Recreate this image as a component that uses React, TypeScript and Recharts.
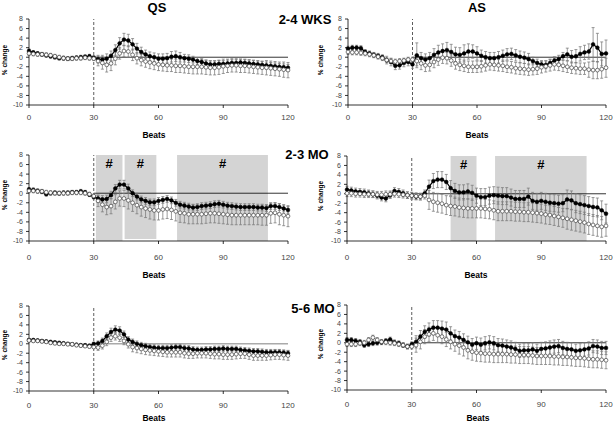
import React from 'react';
import { ComposedChart, Line, XAxis, YAxis, ReferenceLine, ReferenceArea, ErrorBar } from 'recharts';

const beats = [
  0, 2, 4, 6, 8, 10, 12, 14, 16, 18,
  20, 22, 24, 26, 28, 30, 32, 34, 36, 38,
  40, 42, 44, 46, 48, 50, 52, 54, 56, 58,
  60, 62, 64, 66, 68, 70, 72, 74, 76, 78,
  80, 82, 84, 86, 88, 90, 92, 94, 96, 98,
  100, 102, 104, 106, 108, 110, 112, 114, 116, 118,
  120,
];
const xTicks = [0, 30, 60, 90, 120];
const yTicks = [-10, -8, -6, -4, -2, 0, 2, 4, 6, 8];

// QS 2-4 WKS
const qs24Filled = [
  1.3, 1.0, 0.8, 0.6, 0.4, 0.2, 0.0, -0.2, -0.2, -0.3,
  -0.2, -0.1, 0.0, 0.1, 0.2, -0.1, -0.4, -0.5, -0.3, 0.3,
  1.5, 2.9, 3.7, 3.5, 2.7, 1.8, 1.1, 0.6, 0.2, 0.0,
  -0.3, -0.3, -0.2, 0.1, 0.2, 0.0, -0.2, -0.3, -0.5, -0.8,
  -1.0, -1.3, -1.5, -1.5, -1.4, -1.4, -1.3, -1.2, -1.2, -1.1,
  -1.2, -1.3, -1.4, -1.5, -1.6, -1.7, -1.8, -1.9, -2.0, -2.1,
  -2.2,
];
const qs24Open = [
  0.8, 0.7, 0.6, 0.6, 0.5, 0.4, 0.2, 0.0, -0.2, -0.3,
  -0.3, -0.2, -0.2, -0.1, -0.2, -0.3, -0.8, -1.2, -1.6, -1.3,
  -0.3, 0.8, 1.3, 1.2, 0.5, -0.2, -0.6, -0.9, -1.1, -1.3,
  -1.5, -1.6, -1.7, -1.7, -1.8, -1.8, -1.9, -2.0, -2.0, -2.0,
  -2.0, -2.1, -2.2, -2.2, -2.1, -1.9, -1.8, -1.7, -1.7, -1.8,
  -1.8, -1.9, -2.0, -2.1, -2.2, -2.2, -2.3, -2.4, -2.5, -2.6,
  -2.7,
];
const qs24FilledErr = [
  0.4, 0.4, 0.4, 0.4, 0.4, 0.4, 0.4, 0.4, 0.4, 0.4,
  0.4, 0.4, 0.4, 0.4, 0.4, 0.4, 0.8, 0.9, 1.0, 1.0,
  1.1, 1.2, 1.3, 1.3, 1.2, 1.1, 1.0, 0.9, 0.9, 0.9,
  1.0, 1.0, 1.0, 1.1, 1.1, 1.0, 0.8, 0.8, 0.7, 0.7,
  0.7, 0.7, 0.7, 0.7, 0.7, 0.7, 0.7, 0.7, 0.7, 0.7,
  0.7, 0.7, 0.7, 0.7, 0.7, 0.7, 0.7, 0.7, 0.7, 0.7,
  0.7,
];
const qs24OpenErr = [
  0.4, 0.4, 0.4, 0.4, 0.4, 0.4, 0.4, 0.4, 0.4, 0.4,
  0.4, 0.4, 0.4, 0.4, 0.4, 0.4, 1.0, 1.3, 1.5, 1.5,
  1.3, 1.2, 1.2, 1.2, 1.2, 1.2, 1.2, 1.2, 1.3, 1.3,
  1.3, 1.3, 1.3, 1.3, 1.4, 1.4, 1.4, 1.4, 1.5, 1.5,
  1.5, 1.5, 1.5, 1.5, 1.5, 1.5, 1.4, 1.4, 1.4, 1.4,
  1.4, 1.4, 1.4, 1.4, 1.4, 1.5, 1.5, 1.5, 1.5, 1.6,
  1.6,
];

// AS 2-4 WKS
const as24Filled = [
  1.8, 2.0, 2.0, 1.9, 1.1, 0.8, 0.5, 0.3, 0.0, -0.6,
  -1.0, -1.8, -1.7, -1.2, -1.0, -1.5, 0.4, -0.2, -0.5, -0.2,
  0.5, 1.0, 1.3, 1.5, 1.1, 0.6, 0.5, 0.8, 1.2, 1.2,
  0.8, 0.3, 0.0, -0.2, -0.2, 0.0, 0.3, 0.6, 0.7, 0.4,
  0.1, -0.1, -0.4, -0.8, -1.2, -1.5, -1.6, -1.2, -0.7, -0.4,
  0.2, 0.6, 0.1, 0.2, 0.7, 1.0, 1.2, 2.7, 2.0, 0.7,
  0.8,
];
const as24Open = [
  1.1, 1.0, 1.0, 0.9, 0.8, 0.6, 0.4, 0.1, -0.2, -0.6,
  -0.8, -0.9, -0.8, -0.7, -0.5, -0.5, -0.8, -1.3, -1.7, -1.6,
  -1.0, -0.5, -0.1, -0.2, -0.7, -1.3, -1.6, -1.8, -2.0, -2.0,
  -2.0, -1.9, -1.7, -1.5, -1.6, -1.7, -1.8, -2.0, -2.1, -2.3,
  -2.4, -2.5, -2.6, -2.5, -2.4, -2.1, -1.9, -1.7, -1.5, -1.6,
  -1.8, -2.0, -2.2, -2.3, -2.4, -2.4, -2.6, -2.7, -2.7, -2.5,
  -2.2,
];
const as24FilledErr = [
  0.5, 0.5, 0.5, 0.5, 0.5, 0.5, 0.5, 0.5, 0.5, 0.8,
  0.8, 0.8, 0.8, 0.8, 0.8, 0.8, 2.6, 1.2, 1.2, 1.2,
  1.3, 1.5, 1.5, 1.6, 1.6, 1.5, 1.5, 1.8, 1.6, 1.4,
  1.4, 1.2, 1.2, 1.2, 1.2, 1.2, 1.2, 1.2, 1.2, 1.2,
  1.2, 1.2, 1.2, 0.8, 0.8, 0.8, 0.8, 0.8, 0.8, 0.8,
  0.8, 1.3, 1.3, 1.4, 1.5, 1.5, 1.6, 3.5, 3.0, 2.5,
  2.8,
];
const as24OpenErr = [
  0.5, 0.5, 0.5, 0.5, 0.5, 0.5, 0.5, 0.5, 0.5, 0.5,
  0.5, 0.5, 0.5, 0.5, 0.5, 0.5, 1.0, 1.3, 1.3, 1.3,
  1.2, 1.2, 1.2, 1.2, 1.2, 1.2, 1.2, 1.2, 1.2, 1.2,
  1.2, 1.2, 1.2, 1.2, 1.2, 1.2, 1.2, 1.2, 1.2, 1.2,
  1.2, 1.2, 1.2, 1.2, 1.2, 1.2, 1.2, 1.2, 1.2, 1.2,
  1.2, 1.2, 1.2, 1.2, 1.2, 1.2, 1.6, 1.8, 1.8, 1.9,
  2.0,
];

// QS 2-3 MO
const qs23Filled = [
  0.8, 0.7, 0.5, 0.3, -0.2, 0.0, 0.1, 0.0, 0.1, 0.1,
  0.2, 0.2, 0.4, 0.2, -0.3, -0.8, -1.1, -1.3, -1.2, -0.4,
  1.0, 1.8, 1.8, 1.0, 0.0, -0.7, -1.3, -1.6, -1.9, -1.9,
  -1.6, -1.4, -1.2, -1.5, -2.0, -2.4, -2.6, -2.8, -3.0, -2.9,
  -2.7, -2.6, -2.5, -2.3, -2.2, -2.4, -2.6, -2.7, -2.8, -2.9,
  -2.9, -2.9, -2.9, -3.0, -3.0, -3.1, -2.7, -2.7, -2.9, -3.2,
  -3.5,
];
const qs23Open = [
  0.5, 0.5, 0.4, 0.4, 0.2, 0.1, 0.0, 0.0, 0.0, 0.0,
  0.1, 0.1, 0.1, 0.0, -0.2, -0.6, -1.6, -2.4, -2.9, -2.7,
  -1.8, -1.1, -1.1, -1.5, -2.0, -2.5, -2.9, -3.2, -3.4, -3.6,
  -3.6, -3.4, -3.3, -3.5, -3.8, -4.1, -4.2, -4.4, -4.4, -4.4,
  -4.4, -4.3, -4.2, -4.2, -4.3, -4.4, -4.5, -4.6, -4.6, -4.6,
  -4.6, -4.6, -4.6, -4.6, -4.6, -4.6, -4.2, -4.1, -4.4, -4.6,
  -4.8,
];
const qs23FilledErr = [
  0.4, 0.4, 0.4, 0.4, 0.4, 0.4, 0.4, 0.4, 0.4, 0.4,
  0.4, 0.4, 0.4, 0.4, 0.4, 0.4, 0.7, 0.8, 0.8, 0.8,
  0.8, 0.9, 0.9, 0.9, 0.7, 0.7, 0.7, 0.7, 0.7, 0.7,
  0.7, 0.7, 0.7, 0.7, 0.7, 0.7, 0.7, 0.7, 0.7, 0.7,
  0.7, 0.7, 0.7, 0.7, 0.7, 0.7, 0.7, 0.7, 0.7, 0.7,
  0.7, 0.7, 0.7, 0.7, 0.7, 0.7, 0.7, 0.7, 0.7, 0.7,
  0.7,
];
const qs23OpenErr = [
  0.4, 0.4, 0.4, 0.4, 0.4, 0.4, 0.4, 0.4, 0.4, 0.4,
  0.4, 0.4, 0.4, 0.4, 0.4, 0.4, 1.2, 1.5, 1.6, 1.6,
  1.5, 1.6, 1.7, 1.8, 1.8, 1.8, 1.9, 1.9, 2.0, 2.0,
  2.0, 2.0, 2.0, 2.0, 2.0, 2.0, 2.0, 2.0, 2.0, 2.0,
  2.0, 2.0, 2.0, 2.0, 2.0, 2.0, 2.0, 2.0, 2.0, 2.0,
  2.0, 2.0, 2.0, 2.0, 2.1, 2.1, 2.1, 2.1, 2.2, 2.2,
  2.2,
];

// AS 2-3 MO
const as23Filled = [
  0.9, 0.7, 0.5, 0.4, 0.3, 0.1, -0.1, -0.4, -0.8, -1.0,
  -0.3, 0.6, 0.4, 0.1, -0.3, -0.4, -0.6, -0.6, 0.1, 1.5,
  2.7, 3.0, 3.0, 2.5, 1.2, 0.6, 0.3, 0.3, 0.5, 0.2,
  -0.4, -0.7, -0.7, -0.4, -0.3, -0.4, -0.5, -0.5, -0.8, -1.1,
  -1.1, -1.1, -0.6, -1.5, -1.7, -1.5, -1.7, -1.9, -2.0, -2.1,
  -2.0, -1.2, -1.4, -2.0, -2.2, -2.4, -2.6, -2.8, -2.9, -3.5,
  -4.2,
];
const as23Open = [
  0.1, 0.1, 0.0, 0.0, -0.1, -0.1, -0.1, -0.2, -0.2, -0.1,
  -0.1, 0.0, -0.1, -0.2, -0.3, -0.4, -0.5, -0.6, -0.4, -1.3,
  -1.7, -1.9, -2.1, -2.4, -2.6, -2.7, -2.9, -3.0, -3.1, -3.1,
  -3.1, -3.1, -3.2, -3.3, -3.5, -3.7, -3.7, -3.7, -3.7, -3.8,
  -3.8, -3.9, -3.9, -4.0, -4.1, -4.2, -4.4, -4.5, -4.7, -4.9,
  -5.1, -5.3, -5.5, -5.7, -5.9, -6.1, -6.4, -6.6, -6.8, -7.0,
  -6.8,
];
const as23FilledErr = [
  0.7, 0.7, 0.7, 0.7, 0.7, 0.7, 0.7, 0.7, 0.7, 0.7,
  0.7, 0.7, 0.7, 0.7, 0.7, 0.7, 0.7, 0.7, 0.7, 1.4,
  1.6, 1.7, 1.7, 1.6, 1.6, 1.6, 1.6, 1.6, 1.6, 1.6,
  1.6, 1.8, 1.8, 1.8, 1.8, 1.8, 1.8, 1.8, 1.8, 1.8,
  1.8, 1.8, 1.8, 1.8, 1.8, 1.8, 1.8, 1.8, 1.8, 1.8,
  1.8, 2.0, 2.0, 2.0, 2.0, 2.0, 2.0, 2.0, 2.0, 2.0,
  2.0,
];
const as23OpenErr = [
  0.7, 0.7, 0.7, 0.7, 0.7, 0.7, 0.7, 0.7, 0.7, 0.7,
  0.7, 0.7, 0.7, 0.7, 0.7, 0.7, 0.7, 0.7, 0.7, 2.0,
  2.0, 2.0, 2.0, 2.0, 2.0, 2.0, 2.0, 2.0, 2.0, 2.0,
  2.0, 2.0, 2.0, 2.0, 2.0, 2.0, 2.0, 2.0, 2.0, 2.0,
  2.0, 2.0, 2.0, 2.0, 2.0, 2.0, 2.0, 2.0, 2.0, 2.0,
  2.0, 2.2, 2.2, 2.2, 2.2, 2.2, 2.2, 2.2, 2.2, 2.2,
  2.2,
];

// QS 5-6 MO
const qs56Filled = [
  0.8, 0.8, 0.7, 0.6, 0.5, 0.4, 0.3, 0.2, 0.1, 0.0,
  -0.1, -0.2, -0.3, -0.3, -0.4, 0.0, 0.1, 0.6, 1.6, 2.5,
  3.0, 2.8, 2.0, 0.9, 0.4, 0.0, -0.3, -0.5, -0.7, -0.8,
  -0.9, -0.9, -0.9, -0.8, -0.7, -0.7, -0.9, -1.0, -1.2, -1.3,
  -1.3, -1.2, -1.2, -1.1, -1.1, -1.0, -1.1, -1.1, -1.1, -1.3,
  -1.4, -1.5, -1.6, -1.6, -1.7, -1.8, -1.8, -1.8, -1.8, -1.9,
  -2.0,
];
const qs56Open = [
  0.7, 0.6, 0.6, 0.5, 0.4, 0.2, 0.1, 0.0, 0.0, -0.1,
  -0.1, -0.3, -0.4, -0.5, -0.6, -0.7, -0.8, -0.4, 0.4, 1.3,
  1.6, 1.3, 0.6, -0.1, -0.7, -0.9, -1.1, -1.3, -1.4, -1.5,
  -1.6, -1.7, -1.8, -1.8, -1.8, -1.8, -2.0, -2.1, -2.1, -2.0,
  -2.0, -2.0, -2.1, -2.2, -2.2, -2.3, -2.3, -2.3, -2.2, -2.1,
  -2.1, -2.3, -2.5, -2.5, -2.5, -2.5, -2.4, -2.3, -2.3, -2.4,
  -2.5,
];
const qs56FilledErr = [
  0.3, 0.3, 0.3, 0.3, 0.3, 0.3, 0.3, 0.3, 0.3, 0.3,
  0.3, 0.3, 0.3, 0.3, 0.3, 0.3, 0.5, 0.6, 0.7, 0.8,
  0.8, 0.8, 0.7, 0.6, 0.6, 0.6, 0.6, 0.6, 0.6, 0.6,
  0.6, 0.6, 0.6, 0.6, 0.6, 0.6, 0.6, 0.6, 0.6, 0.6,
  0.6, 0.6, 0.6, 0.6, 0.6, 0.6, 0.6, 0.6, 0.6, 0.6,
  0.6, 0.6, 0.6, 0.6, 0.6, 0.6, 0.6, 0.6, 0.6, 0.6,
  0.6,
];
const qs56OpenErr = [
  0.3, 0.3, 0.3, 0.3, 0.3, 0.3, 0.3, 0.3, 0.3, 0.3,
  0.3, 0.3, 0.3, 0.3, 0.3, 0.3, 0.6, 0.7, 0.8, 0.8,
  0.8, 0.8, 0.8, 0.8, 1.0, 1.0, 1.0, 1.0, 1.0, 1.0,
  1.0, 1.0, 1.0, 1.0, 1.0, 1.0, 1.0, 1.0, 1.0, 1.0,
  1.0, 1.0, 1.0, 1.0, 1.0, 1.0, 1.0, 1.0, 1.0, 1.0,
  1.0, 1.0, 1.0, 1.0, 1.0, 1.0, 1.0, 1.0, 1.0, 1.0,
  1.0,
];

// AS 5-6 MO
const as56Filled = [
  0.6, 0.6, 0.4, 0.2, -0.5, -0.3, -0.1, 0.0, 0.1, 0.4,
  0.7, 0.1, -0.1, -0.5, -0.8, -0.3, 0.2, 1.3, 2.3, 2.8,
  3.2, 3.2, 3.0, 2.8, 2.0, 1.4, 1.1, 0.6, 0.1, -0.4,
  -0.1, -0.4, -0.1, 0.1, -0.1, -0.5, -0.6, -0.8, -1.0, -1.3,
  -1.7, -1.6, -1.6, -1.4, -1.7, -1.3, -1.2, -1.0, -0.8, -0.7,
  -1.1, -1.3, -1.4, -1.7, -1.6, -1.4, -1.2, -0.7, -0.8, -1.1,
  -1.1,
];
const as56Open = [
  -0.3, -0.3, -0.3, -0.1, 0.0, 0.6, 1.1, 0.6, 0.2, 0.1,
  0.0, -0.1, -0.3, -0.5, -0.8, -0.8, -0.5, 0.2, 1.3, 1.8,
  2.0, 1.6, 1.3, 0.7, 0.2, -0.3, -0.6, -1.0, -1.6, -1.9,
  -2.1, -2.2, -2.3, -2.3, -2.4, -2.4, -2.4, -2.4, -2.5, -2.5,
  -2.6, -2.6, -2.6, -2.7, -2.8, -2.8, -2.8, -2.8, -2.9, -2.9,
  -3.0, -3.0, -3.1, -3.2, -3.2, -3.3, -3.4, -3.5, -3.5, -3.6,
  -3.7,
];
const as56FilledErr = [
  0.5, 0.5, 0.5, 0.5, 0.5, 0.5, 0.5, 0.5, 0.5, 0.5,
  0.5, 0.5, 0.5, 0.5, 0.5, 0.5, 1.3, 1.3, 1.3, 1.4,
  1.5, 1.5, 1.6, 1.6, 1.4, 1.3, 1.3, 1.3, 1.3, 1.3,
  1.3, 1.4, 1.4, 1.4, 1.4, 1.4, 1.4, 1.4, 1.4, 1.4,
  1.4, 1.4, 1.4, 1.4, 1.4, 1.4, 1.4, 1.4, 1.4, 1.4,
  1.4, 1.4, 1.4, 1.4, 1.4, 1.4, 1.4, 1.4, 1.4, 1.4,
  1.4,
];
const as56OpenErr = [
  0.5, 0.5, 0.5, 0.5, 0.5, 0.5, 0.5, 0.5, 0.5, 0.5,
  0.5, 0.5, 0.5, 0.5, 0.5, 0.5, 1.5, 1.5, 1.5, 1.5,
  1.5, 1.5, 1.5, 1.5, 1.5, 1.5, 1.8, 1.8, 1.8, 1.8,
  1.8, 1.8, 1.8, 1.8, 1.8, 1.8, 1.8, 1.8, 1.8, 1.8,
  1.8, 1.8, 1.8, 1.8, 1.8, 1.8, 1.8, 1.8, 1.8, 1.8,
  1.8, 1.8, 1.8, 1.8, 1.8, 1.8, 1.8, 1.8, 1.8, 1.8,
  1.8,
];

// significance shading (# regions), in beats
const qs23Shade = [
  { from: 31, to: 43.3, bottom: -10 },
  { from: 44.3, to: 59, bottom: -9.6 },
  { from: 68.6, to: 110.7, bottom: -10 },
];
const as23Shade = [
  { from: 48, to: 60, bottom: -10 },
  { from: 68.6, to: 111, bottom: -10 },
];

const FONT = "Arial, 'Liberation Sans', sans-serif";

type Shade = { from: number; to: number; bottom: number };
type PanelProps = {
  x0: number; x1: number; y0: number; y1: number;
  filled: number[]; open: number[]; filledErr: number[]; openErr: number[];
  shade?: Shade[]; tickMargin: number; grayZero?: boolean;
};

function Panel(p: PanelProps) {
  const data = beats.map((b, i) => ({
    beat: b,
    f: p.filled[i],
    o: p.open[i],
    fe: p.filledErr[i],
    oe: p.openErr[i],
  }));
  const w = p.x1 - p.x0 + 40;
  const h = p.y1 - p.y0 + 40;
  return (
    <div style={{ position: 'absolute', left: p.x0 - 30, top: p.y0 - 10 }}>
      <ComposedChart width={w} height={h} data={data} margin={{ top: 10, right: 10, left: 0, bottom: 10 }}>
        {(p.shade || []).map((s, i) => (
          <ReferenceArea
            key={i}
            x1={s.from}
            x2={s.to}
            y1={s.bottom}
            y2={8}
            fill="#d4d4d4"
            fillOpacity={1}
            stroke="none"
            ifOverflow="hidden"
            label={{ value: '#', position: 'insideTop', offset: 4, fontSize: 13, fontWeight: 'bold', fill: '#000', fontFamily: FONT }}
          />
        ))}
        <XAxis
          dataKey="beat"
          type="number"
          domain={[0, 120]}
          ticks={xTicks}
          interval={0}
          height={20}
          tickSize={3}
          tickMargin={p.tickMargin}
          axisLine={{ stroke: '#000', strokeWidth: 0.8 }}
          tickLine={{ stroke: '#000', strokeWidth: 0.8 }}
          tick={{ fontSize: 8, fill: '#444', fontFamily: FONT }}
        />
        <YAxis
          type="number"
          domain={[-10, 8]}
          ticks={yTicks}
          interval={0}
          width={30}
          tickSize={3}
          tickMargin={3}
          axisLine={{ stroke: '#000', strokeWidth: 0.8 }}
          tickLine={{ stroke: '#000', strokeWidth: 0.8 }}
          tick={{ fontSize: 7, fill: '#444', fontFamily: FONT }}
        />
        <ReferenceLine
          segment={[{ x: 30, y: 0 }, { x: 120, y: 0 }]}
          stroke={p.grayZero ? '#aaaaaa' : '#000'}
          strokeWidth={p.grayZero ? 1.6 : 0.8}
        />
        <ReferenceLine x={30} stroke="#333" strokeWidth={0.8} strokeDasharray="3 2" />
        <Line
          dataKey="f"
          type="linear"
          stroke="#000"
          strokeWidth={1.2}
          dot={{ r: 1.9, fill: '#000', stroke: '#000', strokeWidth: 0.5 }}
          activeDot={false}
          isAnimationActive={false}
        >
          <ErrorBar dataKey="fe" width={1.5} stroke="#7a7a7a" strokeWidth={0.75} direction="y" />
        </Line>
        <Line
          dataKey="o"
          type="linear"
          stroke="#666"
          strokeWidth={0.6}
          dot={{ r: 1.9, fill: '#fff', stroke: '#444', strokeWidth: 0.7 }}
          activeDot={false}
          isAnimationActive={false}
        >
          <ErrorBar dataKey="oe" width={1.5} stroke="#7a7a7a" strokeWidth={0.75} direction="y" />
        </Line>
      </ComposedChart>
    </div>
  );
}

function Txt(props: { x: number; y: number; size: number; bold?: boolean; rotate?: boolean; children: React.ReactNode }) {
  return (
    <div
      style={{
        position: 'absolute',
        left: props.x,
        top: props.y,
        transform: `translate(-50%, -50%)${props.rotate ? ' rotate(-90deg)' : ''}`,
        fontFamily: FONT,
        fontSize: props.size,
        fontWeight: props.bold ? 'bold' : 'normal',
        whiteSpace: 'nowrap',
        lineHeight: 1,
        color: '#000',
      }}
    >
      {props.children}
    </div>
  );
}

export default function App() {
  return (
    <div style={{ position: 'absolute', left: 0, top: 0, width: 613, height: 424, overflow: 'hidden', background: '#fff' }}>
      <Panel x0={29} x1={288} y0={19} y1={105} filled={qs24Filled} open={qs24Open} filledErr={qs24FilledErr} openErr={qs24OpenErr} tickMargin={6} />
      <Panel x0={348} x1={606} y0={19} y1={105} filled={as24Filled} open={as24Open} filledErr={as24FilledErr} openErr={as24OpenErr} tickMargin={6} />
      <Panel x0={29} x1={288} y0={155} y1={241} filled={qs23Filled} open={qs23Open} filledErr={qs23FilledErr} openErr={qs23OpenErr} shade={qs23Shade} tickMargin={10} />
      <Panel x0={347} x1={606} y0={156} y1={241} filled={as23Filled} open={as23Open} filledErr={as23FilledErr} openErr={as23OpenErr} shade={as23Shade} tickMargin={10} />
      <Panel x0={29} x1={288} y0={306} y1={391} filled={qs56Filled} open={qs56Open} filledErr={qs56FilledErr} openErr={qs56OpenErr} tickMargin={8} grayZero />
      <Panel x0={347} x1={606} y0={305} y1={390} filled={as56Filled} open={as56Open} filledErr={as56FilledErr} openErr={as56OpenErr} tickMargin={8} />

      <Txt x={157} y={7} size={13} bold>QS</Txt>
      <Txt x={477} y={7} size={13} bold>AS</Txt>
      <Txt x={305} y={19} size={13} bold>2-4 WKS</Txt>
      <Txt x={307} y={154} size={13} bold>2-3 MO</Txt>
      <Txt x={313} y={308} size={13} bold>5-6 MO</Txt>

      <Txt x={5} y={60} size={6.5} bold rotate>% change</Txt>
      <Txt x={321} y={60} size={6.5} bold rotate>% change</Txt>
      <Txt x={5} y={195} size={6.5} bold rotate>% change</Txt>
      <Txt x={321} y={196} size={6.5} bold rotate>% change</Txt>
      <Txt x={5} y={345} size={6.5} bold rotate>% change</Txt>
      <Txt x={321} y={344} size={6.5} bold rotate>% change</Txt>

      <Txt x={154} y={135} size={8.5} bold>Beats</Txt>
      <Txt x={477} y={135} size={8.5} bold>Beats</Txt>
      <Txt x={154} y={275} size={8.5} bold>Beats</Txt>
      <Txt x={476} y={275} size={8.5} bold>Beats</Txt>
      <Txt x={154} y={418} size={8.5} bold>Beats</Txt>
      <Txt x={478} y={418} size={8.5} bold>Beats</Txt>
    </div>
  );
}
